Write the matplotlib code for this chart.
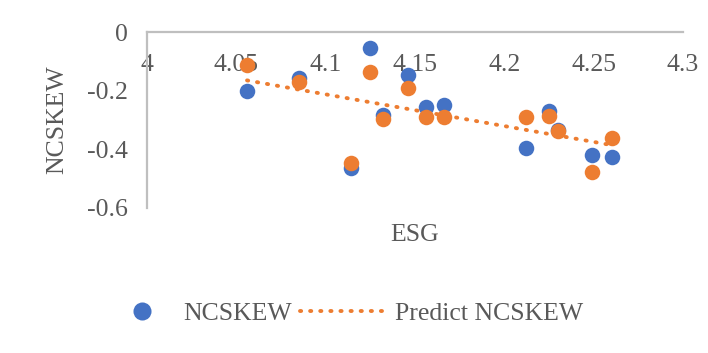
import numpy as np
import matplotlib
matplotlib.use('Agg')
import matplotlib.pyplot as plt
from matplotlib.lines import Line2D
from matplotlib.legend_handler import HandlerBase

# ESG vs NCSKEW (actual) and predicted NCSKEW
esg = [4.056, 4.085, 4.114, 4.125, 4.132, 4.146, 4.156, 4.166,
       4.212, 4.225, 4.230, 4.249, 4.260]
ncskew = [-0.200, -0.158, -0.465, -0.056, -0.283, -0.147, -0.255, -0.249,
          -0.394, -0.268, -0.335, -0.420, -0.426]
predict = [-0.113, -0.172, -0.446, -0.135, -0.298, -0.192, -0.289, -0.289,
           -0.289, -0.287, -0.338, -0.477, -0.363]

x_ticks = [4, 4.05, 4.1, 4.15, 4.2, 4.25, 4.3]
y_ticks = [0, -0.2, -0.4, -0.6]

blue = '#4472C4'
orange = '#ED7D31'
grey = '#BFBFBF'
txt = '#595959'
dots = (0, (0.3, 2.3))

plt.rcParams['font.family'] = ['Liberation Serif', 'DejaVu Serif']
fs = 18.5

fig = plt.figure(figsize=(7.08, 3.53), dpi=100)
ax = fig.add_axes([0.2076, 0.4108, 0.7571, 0.4985])

ax.scatter(esg, ncskew, s=125, color=blue, zorder=3, linewidths=0)
ax.scatter(esg, predict, s=125, color=orange, zorder=4, linewidths=0)

# linear trend of the predicted values
coef = np.polyfit(esg, predict, 1)
xs = np.array([min(esg), max(esg)])
ax.plot(xs, np.polyval(coef, xs), color=orange, linestyle=dots,
        linewidth=2.8, dash_capstyle='round', zorder=5)

ax.set_xlim(4, 4.3)
ax.set_ylim(-0.6, 0)
ax.set_xticks(x_ticks)
ax.set_xticklabels([f'{v:g}' for v in x_ticks])
ax.set_yticks(y_ticks)
ax.set_yticklabels([f'{v:g}' for v in y_ticks])

ax.spines['bottom'].set_position(('data', 0))
ax.spines['right'].set_visible(False)
ax.spines['top'].set_visible(False)
for s in ['bottom', 'left']:
    ax.spines[s].set_color(grey)
    ax.spines[s].set_linewidth(1.6)
ax.tick_params(axis='both', length=0, labelsize=fs, colors=txt)
ax.tick_params(axis='x', pad=16)
ax.tick_params(axis='y', pad=14)

ax.set_xlabel('ESG', fontsize=fs, color=txt)
ax.xaxis.set_label_coords(0.5, -0.09)
ax.set_ylabel('NCSKEW', fontsize=fs, color=txt)
ax.yaxis.set_label_coords(-0.146, 0.5)


class MarkerRight(HandlerBase):
    """marker sits toward the right of its handle, like Excel"""
    def create_artists(self, legend, orig_handle, xdescent, ydescent,
                       width, height, fontsize, trans):
        m = Line2D([-xdescent + 0.65 * width], [(height - ydescent) / 2],
                   marker='o', linestyle='none', color=blue, markersize=13,
                   markeredgewidth=0, transform=trans)
        return [m]


marker_handle = Line2D([], [], marker='o', linestyle='none', color=blue)
line_handle = Line2D([], [], color=orange, linestyle=dots, linewidth=2.8,
                     dash_capstyle='round')
leg = fig.legend([marker_handle, line_handle], ['NCSKEW', 'Predict NCSKEW'],
                 loc='center', bbox_to_anchor=(0.474, 0.113), ncol=2,
                 frameon=False, fontsize=fs, handlelength=3.2,
                 handletextpad=0.5, columnspacing=0.3,
                 handler_map={marker_handle: MarkerRight()})
for t in leg.get_texts():
    t.set_color(txt)

fig.savefig('out.png', dpi=100)
